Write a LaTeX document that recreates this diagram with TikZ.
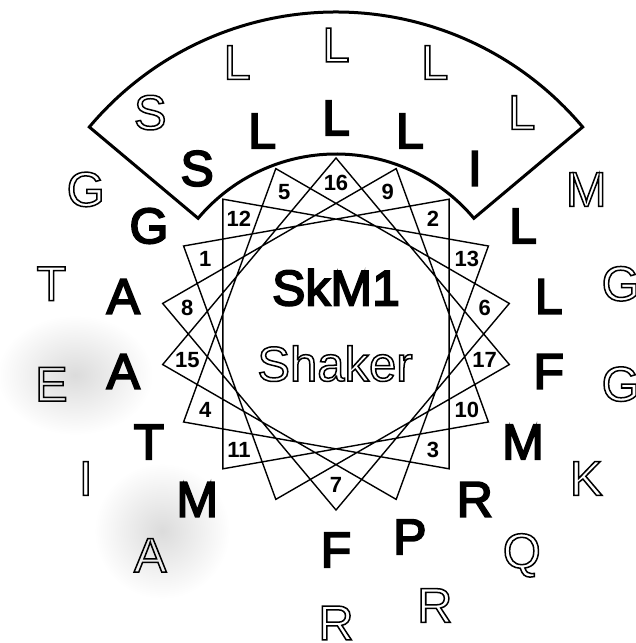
\documentclass[tikz,border=0pt]{standalone}
\usepackage{fontspec}
\setmainfont{Liberation Sans}
\usetikzlibrary{positioning}
% stroked (hollow) and thickened letters
\newcommand\hollow[1]{\special{pdf:literal direct 1 Tr 1.5 w}#1\special{pdf:literal direct 0 Tr}}
\newcommand\heavy[1]{\special{pdf:literal direct 2 Tr 1.8 w}#1\special{pdf:literal direct 0 Tr}}

\begin{document}
\begin{tikzpicture}[
          x=1pt, y=1pt,
          wheel/.style={line width=1.4pt, line join=miter},
          fan/.style={line width=3pt, line join=miter},
          skm/.style={inner sep=0pt, font=\fontsize{50}{50}\selectfont},
          shk/.style={inner sep=0pt, font=\fontsize{49}{49}\selectfont},
          num/.style={inner sep=0pt, font=\bfseries\fontsize{22}{22}\selectfont},
          blob/.style={inner color=black!14, outer color=white}
        ]
          \useasboundingbox (0,0) rectangle (636,643);
          \coordinate (c) at (336,309);

          % stippled patches
          \shade[blob] (75,268) ellipse (78 and 60);
          \shade[blob] (162,112) ellipse (68 and 68);

          % sector
          \draw[fan] ([shift={(40:322)}]c) arc[start angle=40, end angle=140, radius=322]
            -- ([shift={(140:180)}]c) arc[start angle=140, end angle=40, radius=180] -- cycle;

          % helical wheel
          \foreach \i in {1,...,18}
            \path (c) ++({150-100*(\i-1)}:176) coordinate (v\i);
          \draw[wheel] (v1) \foreach \i in {2,...,18}{ -- (v\i)} -- cycle;

          \foreach \i in {1,...,13,15,16,17}
            \path (c) ++({150-100*(\i-1)}:151) node[num] (n\i) {\i};

          % residues
          \foreach \i/\a/\b in {1/G/G, 2/I/L, 3/R/Q, 4/T/I, 5/L/L, 6/L/G, 7/F/R, 8/A/T, 9/L/L,
                                10/M/K, 11/M/A, 12/S/S, 13/L/M, 14/P/R, 15/A/E, 16/L/L, 17/F/G}{
            \path (c) ++({150-100*(\i-1)}:216) node[skm] (k\i) {\heavy{\a}};
            \path (c) ++({150-100*(\i-1)}:289) node[shk] (s\i) {\hollow{\b}};
          }

          \node[skm] (skm1) at (336,355.5) {\heavy{SkM1}};
          \node[shk] (shaker) at (335,279.5) {\hollow{Shaker}};
        \end{tikzpicture}
\end{document}
